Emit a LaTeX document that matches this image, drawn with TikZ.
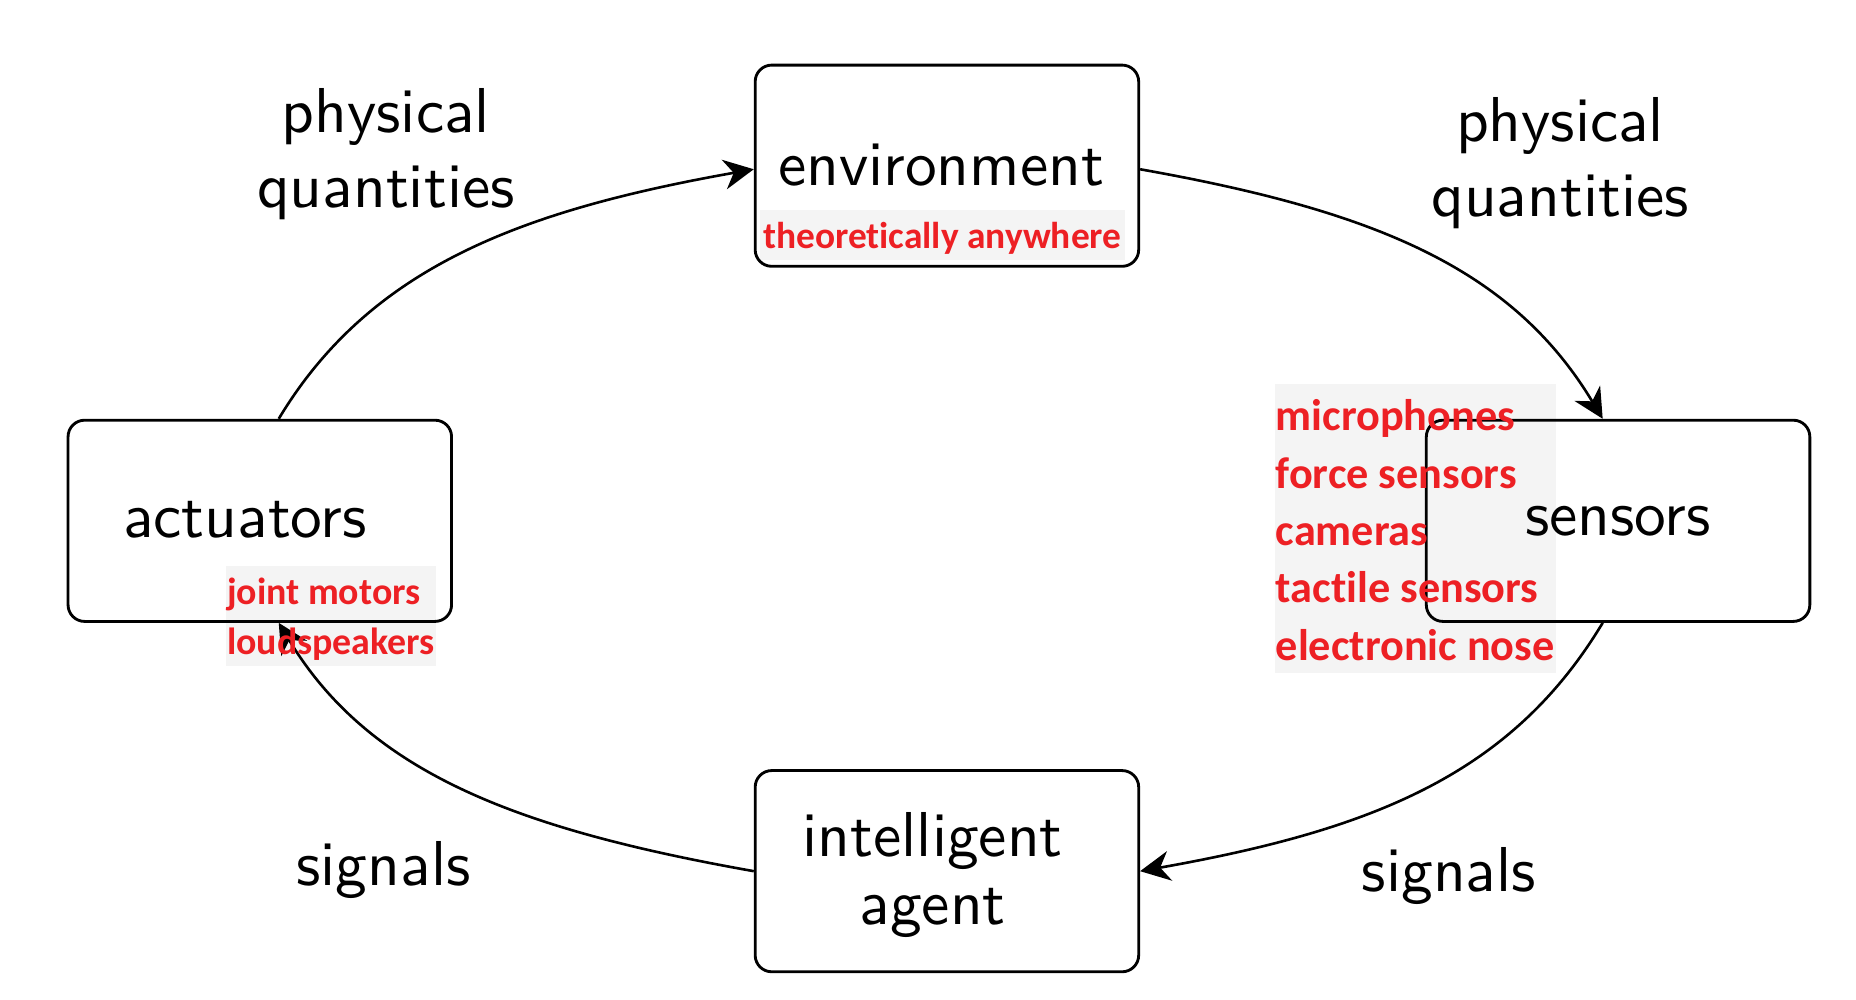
\documentclass[tikz,border=0pt]{standalone}
\usepackage{fontspec}
\newfontfamily\redfont{Carlito}[Ligatures={NoCommon}]
\newfontfamily\blackfont{lmsans10-regular}[Extension=.otf]
\usetikzlibrary{arrows.meta}
\definecolor{redtxt}{RGB}{237,32,36}
\definecolor{graybg}{RGB}{244,244,244}
\pgfdeclarelayer{bg}
\pgfsetlayers{bg,main}
\tikzset{
  blockbox/.style={draw, line width=0.6pt, rounded corners=3.5pt,
    minimum width=81pt, minimum height=42.5pt, inner sep=0pt,
    font=\blackfont\fontsize{13.4pt}{15pt}\selectfont},
  plainlabel/.style={inner sep=0pt, align=center,
    font=\blackfont\fontsize{13.4pt}{15.75pt}\selectfont},
  redlabel/.style={anchor=north west, inner xsep=0pt, inner ysep=0pt,
    text=redtxt, font=\redfont\bfseries\fontsize{#1}{#1}\selectfont},
  flow/.style={line width=0.55pt,
    -{Stealth[length=6.3pt,width=6.3pt,inset=2pt]}},
}
\begin{document}
\begin{tikzpicture}[x=0.25pt,y=-0.25pt]
\useasboundingbox (0,0) rectangle (1568,844.8);

% blocks
\node[blockbox] (env) at (800,140)
  {\raisebox{-4.25pt}[0pt][0pt]{environment\hspace*{2.5pt}}};
\node[blockbox] (act) at (219.5,440)
  {\raisebox{-3.5pt}[0pt][0pt]{actuators\hspace*{6.25pt}}};
\node[blockbox] (sens) at (1367,440)
  {\raisebox{-3pt}[0pt][0pt]{sensors}};
\node[blockbox, font=\blackfont\fontsize{13.4pt}{14.25pt}\selectfont]
  (agent) at (800,736)
  {\raisebox{3pt}[0pt][0pt]{\begin{tabular}[t]{@{}c@{}}intelligent\\agent\end{tabular}\hspace*{6pt}}};

% labels
\node[plainlabel] (pqL) at (326,130) {physical\\quantities};
\node[plainlabel] (pqR) at (1318,138) {physical\\quantities};
\node[plainlabel] (sigL) at (324,735) {signals};
\node[plainlabel] (sigR) at (1224,740) {signals};

% connectors
\draw[flow] ([xshift=4pt]act.north) .. controls +(77,-128) and +(-197,35) .. ([yshift=-0.75pt]env.west);
\draw[flow] ([yshift=-0.75pt]env.east) .. controls +(197,35) and +(-77,-128) .. ([xshift=-3.25pt]sens.north);
\draw[flow] ([xshift=-3.25pt]sens.south) .. controls +(-77,128) and +(197,-35) .. (agent.east);
\draw[flow] (agent.west) .. controls +(-197,-35) and +(77,128) .. ([xshift=4pt]act.south);

% red annotations
\node[redlabel=7.9pt, inner xsep=0.5pt, text height=8.1pt, text depth=2.1pt]
  (envred) at (642,177) {theoretically anywhere};
\node[redlabel=8pt, text height=8pt, text depth=12.75pt]
  (actred) at (191,478)
  {\vtop{\baselineskip=10.5pt\hbox{joint motors}\hbox{loudspeakers}}};
\node[redlabel=9.35pt, text height=9.75pt, text depth=51pt]
  (sensred) at (1077,324)
  {\vtop{\baselineskip=12.125pt\hbox{microphones}\hbox{force sensors}\hbox{cameras}\hbox{tactile sensors}\hbox{electronic nose}}};

\begin{pgfonlayer}{bg}
\fill[graybg] (envred.south west) rectangle (envred.north east);
\fill[graybg] (actred.south west) rectangle (actred.north east);
\fill[graybg] (sensred.south west) rectangle (sensred.north east);
\end{pgfonlayer}
\end{tikzpicture}
\end{document}
